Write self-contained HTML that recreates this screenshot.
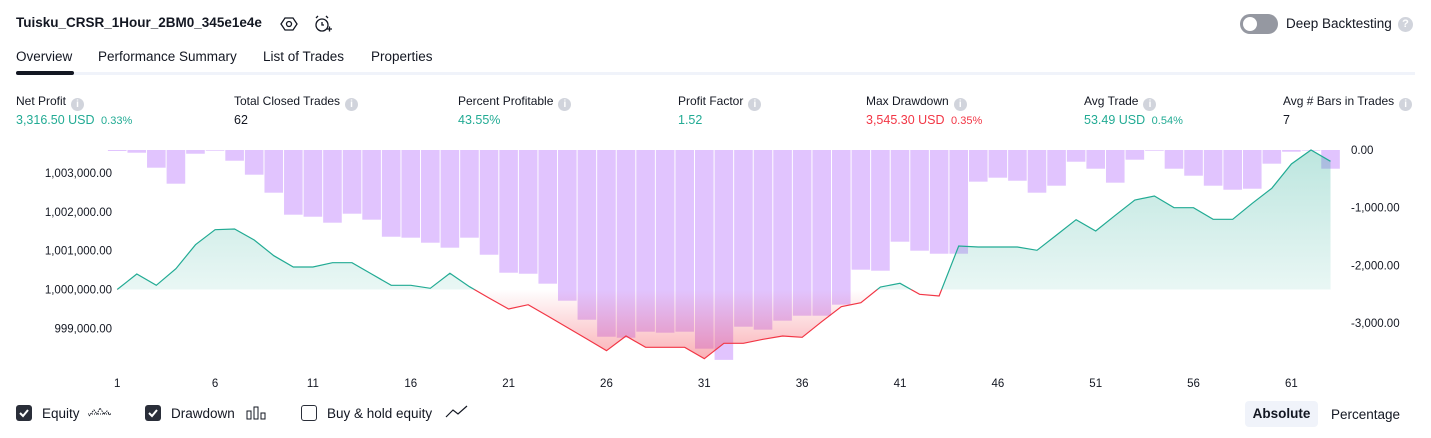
<!DOCTYPE html>
<html><head><meta charset="utf-8">
<style>
body{margin:0;width:1431px;height:438px;background:#fff;font-family:"Liberation Sans",sans-serif;color:#131722;position:relative;overflow:hidden}
.a{position:absolute;white-space:nowrap}
.lbl{font-size:12px;top:94px}
.val{font-size:12.5px;top:113px}
.g{color:#22ab94}.r{color:#f23645}
.small{font-size:11px}
.info{display:inline-block;width:13px;height:13px;border-radius:50%;background:#d1d4dc;color:#fff;font-size:10px;text-align:center;line-height:13px;vertical-align:-2px;margin-left:5px;font-weight:bold}
.tab{font-size:13.5px;top:49px}
.cb{position:absolute;top:405px;width:16px;height:16px;border-radius:3px;box-sizing:border-box}
</style></head><body>
<div class="a" style="left:16px;top:15px;font-size:13.5px;font-weight:bold">Tuisku_CRSR_1Hour_2BM0_345e1e4e</div>
<svg class="a" style="left:280px;top:15px" width="18" height="18" viewBox="0 0 18 18"><polygon points="5,3 13,3 17,9 13,15 5,15 1,9" fill="none" stroke="#131722" stroke-width="1.3"/><circle cx="9" cy="9" r="2.5" fill="none" stroke="#131722" stroke-width="1.3"/></svg>
<svg class="a" style="left:313px;top:14px" width="20" height="20" viewBox="0 0 20 20"><circle cx="9" cy="11" r="6" fill="none" stroke="#131722" stroke-width="1.3"/><path d="M9 8v3h2M3 4l2-2M15 4l-2-2M14 15h5M16.5 12.5v5" stroke="#131722" stroke-width="1.3" fill="none"/></svg>
<div class="a" style="left:1240px;top:14px;width:38px;height:20px;border-radius:10px;background:#9598a1"><div style="position:absolute;left:3px;top:3px;width:14px;height:14px;border-radius:50%;background:#fff"></div></div>
<div class="a" style="left:1286px;top:16px;font-size:13.5px">Deep Backtesting</div>
<div class="a" style="left:1398px;top:17px;width:15px;height:15px;border-radius:50%;background:#d1d4dc;color:#fff;font-size:11px;text-align:center;line-height:15px;font-weight:bold">?</div>

<div class="a tab" style="left:16px">Overview</div>
<div class="a tab" style="left:98px">Performance Summary</div>
<div class="a tab" style="left:263px">List of Trades</div>
<div class="a tab" style="left:371px">Properties</div>
<div class="a" style="left:16px;top:72px;width:1399px;height:3px;background:#f0f3fa"></div>
<div class="a" style="left:16px;top:71px;width:58px;height:4px;border-radius:2px;background:#131722"></div>

<div class="a lbl" style="left:16px">Net Profit<span class="info">i</span></div>
<div class="a val g" style="left:16px">3,316.50 USD <span class="small">&nbsp;0.33%</span></div>
<div class="a lbl" style="left:234px">Total Closed Trades<span class="info">i</span></div>
<div class="a val" style="left:234px">62</div>
<div class="a lbl" style="left:458px">Percent Profitable<span class="info">i</span></div>
<div class="a val g" style="left:458px">43.55%</div>
<div class="a lbl" style="left:678px">Profit Factor<span class="info">i</span></div>
<div class="a val g" style="left:678px">1.52</div>
<div class="a lbl" style="left:866px">Max Drawdown<span class="info">i</span></div>
<div class="a val r" style="left:866px">3,545.30 USD <span class="small">&nbsp;0.35%</span></div>
<div class="a lbl" style="left:1084px">Avg Trade<span class="info">i</span></div>
<div class="a val g" style="left:1084px">53.49 USD <span class="small">&nbsp;0.54%</span></div>
<div class="a lbl" style="left:1283px">Avg # Bars in Trades<span class="info">i</span></div>
<div class="a val" style="left:1283px">7</div>

<svg id="chart" class="a" style="left:0;top:0" width="1431" height="395"></svg>

<div class="cb" style="left:16px;background:#2a2e39"><svg width="16" height="16"><path d="M4 8l3 3 5-6" stroke="#fff" stroke-width="2" fill="none"/></svg></div>
<div class="a" style="left:42px;top:406px;font-size:13.5px">Equity</div>
<svg class="a" style="left:88px;top:404px" width="24" height="16"><path d="M1 12l5-6 3 4 3-6 4 6 3-3 3 4" stroke="#131722" fill="none" stroke-dasharray="1.5 1"/><line x1="0" y1="10" x2="24" y2="10" stroke="#131722" stroke-dasharray="1 1"/></svg>
<div class="cb" style="left:145px;background:#2a2e39"><svg width="16" height="16"><path d="M4 8l3 3 5-6" stroke="#fff" stroke-width="2" fill="none"/></svg></div>
<div class="a" style="left:171px;top:406px;font-size:13.5px">Drawdown</div>
<svg class="a" style="left:246px;top:405px" width="22" height="16"><rect x="1" y="6" width="4" height="8" fill="none" stroke="#131722"/><rect x="8" y="2" width="4" height="12" fill="none" stroke="#131722"/><rect x="15" y="8" width="4" height="6" fill="none" stroke="#131722"/></svg>
<div class="cb" style="left:301px;border:1.3px solid #2a2e39;background:#fff"></div>
<div class="a" style="left:327px;top:406px;font-size:13.5px">Buy &amp; hold equity</div>
<svg class="a" style="left:445px;top:404px" width="24" height="16"><path d="M1 13l7-7 5 4 9-8" stroke="#131722" fill="none" stroke-width="1.2"/></svg>
<div class="a" style="left:1245px;top:401px;width:73px;height:26px;border-radius:4px;background:#f0f3fa;font-size:13.5px;font-weight:bold;text-align:center;line-height:26px">Absolute</div>
<div class="a" style="left:1331px;top:407px;font-size:13.5px">Percentage</div>

<script>
const equity=[0,399,108,536,1155,1541,1559,1276,871,580,580,691,691,399,108,108,31,417,72,-219,-503,-392,-683,-979,-1276,-1577,-1198,-1490,-1490,-1490,-1783,-1386,-1386,-1283,-1198,-1232,-830,-443,-340,64,160,-124,-168,1121,1095,1095,1095,1010,1404,1799,1508,1912,2306,2409,2108,2108,1809,1809,2221,2608,3234,3595,3304];
const drawdown=[17,46,299,569,63,12,181,417,721,1093,1127,1228,1076,1177,1465,1481,1566,1650,1481,1769,2073,2090,2258,2546,2867,3154,3171,3069,3086,3069,3356,3545,2985,3035,2883,2799,2799,2613,2022,2039,1549,1701,1752,1752,535,468,519,721,603,198,316,552,164,12,316,434,603,671,654,231,29,5,316];
const leftTicks=[1003000,1002000,1001000,1000000,999000];
const leftTickLabels=["1,003,000.00","1,002,000.00","1,001,000.00","1,000,000.00","999,000.00"];
const rightTicks=[0,-1000,-2000,-3000];
const rightTickLabels=["0.00","-1,000.00","-2,000.00","-3,000.00"];
const xTicks=[1,6,11,16,21,26,31,36,41,46,51,56,61];
const initialCapital=1000000;

const NS="http://www.w3.org/2000/svg";
const svg=document.getElementById('chart');
const step=19.57, x0=117.2, barW=18.6;
const xAt=i=>x0+i*step;
const yEq=v=>289.5-(v-initialCapital)*0.0388;
const yDD=d=>150+d*0.0592;
function mk(tag,attrs){const e=document.createElementNS(NS,tag);for(const k in attrs)e.setAttribute(k,attrs[k]);svg.appendChild(e);return e;}

const y0=yEq(initialCapital);
const defs=mk('defs',{});
defs.innerHTML='<linearGradient id="gg" gradientUnits="userSpaceOnUse" x1="0" y1="150" x2="0" y2="'+y0+'"><stop offset="0" stop-color="#22ab94" stop-opacity="0.3"/><stop offset="1" stop-color="#22ab94" stop-opacity="0.1"/></linearGradient><linearGradient id="rg" gradientUnits="userSpaceOnUse" x1="0" y1="'+y0+'" x2="0" y2="360"><stop offset="0" stop-color="#f23645" stop-opacity="0.0"/><stop offset="1" stop-color="#f23645" stop-opacity="0.4"/></linearGradient><clipPath id="above"><rect x="0" y="0" width="1431" height="'+y0+'"/></clipPath><clipPath id="below"><rect x="0" y="'+y0+'" width="1431" height="200"/></clipPath>';

drawdown.forEach((d,i)=>{
  const r=mk('rect',{x:xAt(i)-barW/2,y:yDD(0),width:barW,height:Math.max(0.6,yDD(d)-yDD(0)),fill:'#e1c4fe'});
  
  
});

const pts=equity.map((v,i)=>xAt(i).toFixed(1)+','+yEq(initialCapital+v).toFixed(1));
const areaD='M'+xAt(0)+','+y0+' L'+pts.join(' L')+' L'+xAt(equity.length-1)+','+y0+' Z';
const lineD='M'+pts.join(' L');
const ga=mk('path',{d:areaD,fill:'url(#gg)','clip-path':'url(#above)'});


const ra=mk('path',{d:areaD,fill:'url(#rg)','clip-path':'url(#below)'});


const gl=mk('path',{d:lineD,fill:'none',stroke:'#22ab94','stroke-width':1.2,'clip-path':'url(#above)'});


const rl=mk('path',{d:lineD,fill:'none',stroke:'#f23645','stroke-width':1.2,'clip-path':'url(#below)'});



leftTicks.forEach((v,i)=>{
  const t=mk('text',{x:112,y:yEq(v)+4,'text-anchor':'end','font-size':'11.5',fill:'#131722','font-family':'Liberation Sans, sans-serif'});
  t.textContent=leftTickLabels[i];
  
  
});
rightTicks.forEach((v,i)=>{
  const t=mk('text',{x:1351,y:yDD(-v)+4-(i?1.5*i:0),'font-size':'11.5',fill:'#131722','font-family':'Liberation Sans, sans-serif'});
  t.textContent=rightTickLabels[i];
  
  
});
xTicks.forEach(n=>{
  const t=mk('text',{x:xAt(n-1),y:387,'text-anchor':'middle','font-size':'11.5',fill:'#131722','font-family':'Liberation Sans, sans-serif'});
  t.textContent=n;
  
  
});
</script>
</body></html>
